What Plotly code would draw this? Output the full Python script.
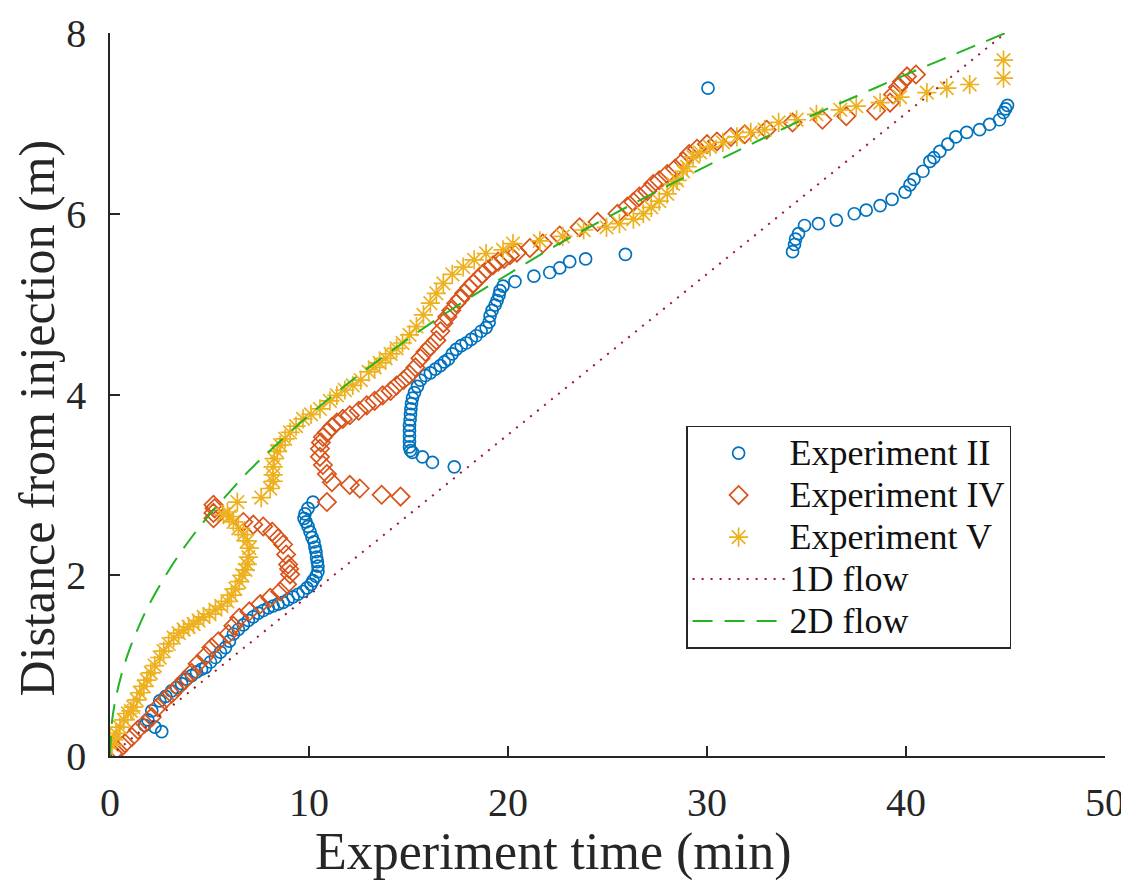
import plotly.graph_objects as go

# ---------------- data ----------------
exp2_x = [1.75, 1.9, 2.1, 2.26, 2.6, 2.5, 2.8, 3.1, 3.35, 3.6, 3.85, 4.1, 4.35, 4.6, 4.8, 5.05, 5.3, 5.55,
          5.8, 6.0, 6.2, 6.45, 6.7, 6.95, 7.2, 7.45, 7.7, 7.95, 8.2, 8.45, 8.7, 8.95, 9.2, 9.45, 9.7, 9.9,
          10.1, 10.2, 10.35, 10.45, 10.45, 10.42, 10.38, 10.35, 10.3, 10.25, 10.15, 10.05, 9.95, 9.85, 9.75,
          9.8, 9.95, 10.2,
          15.2, 15.7, 16.2, 17.3,
          15.1, 15.05, 15.05, 15.05, 15.05, 15.05, 15.08, 15.1, 15.12, 15.15, 15.2, 15.3, 15.45, 15.6, 15.85,
          16.1, 16.35, 16.6, 16.8, 17.0, 17.2, 17.4, 17.65, 17.9, 18.15, 18.4, 18.65, 18.9, 19.05, 19.1, 19.2,
          19.35, 19.45, 19.55, 19.6, 19.75, 20.35, 21.3, 22.1, 22.6, 23.1, 23.9, 25.9,
          30.05,
          34.3, 34.4, 34.45, 34.6, 34.9, 35.6, 36.5, 37.4, 38.0, 38.7, 39.3, 39.95, 40.2, 40.4, 40.85, 41.2,
          41.4, 41.7, 42.1, 42.5, 43.05, 43.7, 44.2, 44.7, 44.9, 45.0, 45.1]
exp2_y = [0.34, 0.40, 0.50, 0.32, 0.27, 0.61, 0.66, 0.72, 0.76, 0.80, 0.85, 0.89, 0.93, 0.96, 0.98, 1.04, 1.09, 1.15,
          1.20, 1.27, 1.35, 1.40, 1.45, 1.50, 1.54, 1.58, 1.61, 1.64, 1.66, 1.68, 1.70, 1.73, 1.76, 1.79, 1.82, 1.86,
          1.90, 1.94, 1.99, 2.04, 2.10, 2.15, 2.20, 2.26, 2.31, 2.37, 2.42, 2.48, 2.54, 2.59, 2.63,
          2.68, 2.74, 2.81,
          3.36, 3.31, 3.25, 3.20,
          3.38, 3.42, 3.48, 3.54, 3.60, 3.66, 3.72, 3.78, 3.84, 3.90, 3.96, 4.02, 4.09, 4.16, 4.21,
          4.24, 4.28, 4.32, 4.36, 4.39, 4.45, 4.50, 4.54, 4.57, 4.61, 4.65, 4.70, 4.74, 4.80, 4.87, 4.93,
          4.99, 5.04, 5.10, 5.15, 5.20, 5.25, 5.31, 5.35, 5.40, 5.47, 5.50, 5.55,
          7.39,
          5.58, 5.66, 5.72, 5.78, 5.87, 5.89, 5.93, 6.00, 6.04, 6.09, 6.16, 6.24, 6.32, 6.38, 6.47, 6.58,
          6.62, 6.69, 6.77, 6.85, 6.90, 6.93, 6.99, 7.04, 7.12, 7.16, 7.20]

exp4_x = [0.15, 0.4, 0.75, 1.1, 1.4, 1.75, 2.1, 2.4, 2.75, 3.1, 3.4, 3.75, 4.1, 4.4, 4.8, 5.1, 5.45, 5.95,
          6.2, 6.5, 7.0, 7.55, 8.05, 8.55, 8.9, 9.05, 9.0, 8.95, 8.85, 8.7, 8.45, 8.15, 7.7, 7.2, 6.7,
          5.2, 5.2, 5.25, 5.2,
          10.9, 11.15, 12.05, 12.55, 13.65, 14.6,
          10.9, 10.7, 10.55, 10.55, 10.6, 10.7, 10.9, 11.15, 11.4, 11.7, 12.05, 12.5, 12.9, 13.3, 13.7, 14.1,
          14.4, 14.75, 15.05, 15.35, 15.6, 15.85, 16.1, 16.4, 16.6, 16.75, 16.95, 17.15, 17.4, 17.6, 17.8, 18.05,
          18.25, 18.5, 18.7, 18.95, 19.25, 19.5, 19.8, 20.1, 20.45, 21.1, 21.75, 22.6, 23.6, 24.5, 25.5, 26.0,
          26.3, 26.6, 27.0, 27.3, 27.6, 28.0, 28.4, 28.8, 29.1, 29.5, 30.0, 30.5, 31.2, 31.9, 33.0, 34.3,
          35.8, 37.0, 38.5, 39.2, 39.35, 39.6, 39.8, 40.05, 40.5]
exp4_y = [0.03, 0.06, 0.14, 0.21, 0.29, 0.36, 0.43, 0.54, 0.62, 0.69, 0.76, 0.84, 0.92, 1.02, 1.11, 1.20, 1.27, 1.35,
          1.44, 1.53, 1.60, 1.68, 1.75, 1.82, 1.90, 2.01, 2.07, 2.12, 2.23, 2.34, 2.41, 2.48, 2.54, 2.56, 2.59,
          2.63, 2.69, 2.74, 2.78,
          2.81, 3.03, 3.00, 2.96, 2.89, 2.87,
          3.12, 3.22, 3.31, 3.40, 3.47, 3.53, 3.58, 3.64, 3.69, 3.73, 3.77, 3.82, 3.88, 3.93, 3.99, 4.04,
          4.10, 4.16, 4.22, 4.30, 4.40, 4.47, 4.53, 4.60, 4.70, 4.79, 4.86, 4.93, 5.01, 5.06, 5.12, 5.18,
          5.23, 5.28, 5.33, 5.38, 5.43, 5.47, 5.50, 5.54, 5.57, 5.62, 5.67, 5.76, 5.85, 5.91, 6.00, 6.08,
          6.13, 6.19, 6.25, 6.33, 6.37, 6.44, 6.50, 6.58, 6.66, 6.72, 6.77, 6.80, 6.85, 6.88, 6.93, 7.01,
          7.04, 7.08, 7.14, 7.23, 7.32, 7.40, 7.46, 7.52, 7.54]

exp5_x = [0.0, 0.1, 0.2, 0.3, 0.5, 0.7, 0.9, 1.05, 1.17, 1.35, 1.5, 1.7, 1.85, 2.05, 2.25, 2.5, 2.7, 2.95,
          3.2, 3.45, 3.7, 3.95, 4.2, 4.45, 4.7, 5.0, 5.3, 5.6, 5.9, 6.1, 6.3, 6.5, 6.65, 6.8, 6.9, 6.95,
          7.0, 6.9, 6.7, 6.45, 6.2, 6.0, 5.9, 5.7, 6.4, 7.6,
          8.05, 8.2, 8.2, 8.2, 8.25, 8.4, 8.55, 8.8, 9.05, 9.35, 9.7, 10.1, 10.55, 11.05, 11.4, 11.8, 12.2,
          12.6, 13.0, 13.3, 13.55, 13.85, 14.1, 14.4, 14.7, 15.05, 15.4, 15.75, 16.1, 16.4, 16.75, 17.2,
          17.75, 18.3, 18.9, 19.75, 20.25, 21.6, 22.75, 23.8, 24.95, 25.6, 26.3, 26.8, 27.2, 27.6, 28.0,
          28.3, 28.5, 28.8, 29.0, 29.3, 29.65, 30.15, 30.8, 31.5, 32.2, 32.9, 33.6, 34.5, 35.5, 36.7, 37.5,
          38.7, 39.7, 41.05, 42.05, 43.2, 44.9, 44.9]
exp5_y = [0.20, 0.12, 0.18, 0.25, 0.32, 0.40, 0.47, 0.50, 0.54, 0.62, 0.70, 0.77, 0.84, 0.92, 1.00, 1.09, 1.16, 1.24,
          1.31, 1.36, 1.40, 1.43, 1.46, 1.50, 1.54, 1.57, 1.62, 1.66, 1.71, 1.78, 1.85, 1.93, 2.00, 2.06, 2.12, 2.20,
          2.30, 2.38, 2.45, 2.52, 2.59, 2.65, 2.70, 2.67, 2.81, 2.86,
          2.96, 3.04, 3.11, 3.20, 3.29, 3.37, 3.44, 3.51, 3.58, 3.65, 3.73, 3.78, 3.84, 3.93, 3.99, 4.05, 4.10,
          4.16, 4.25, 4.30, 4.35, 4.40, 4.45, 4.51, 4.57, 4.66, 4.75, 4.88, 5.01, 5.12, 5.23, 5.33,
          5.41, 5.49, 5.56, 5.60, 5.67, 5.70, 5.75, 5.82, 5.85, 5.89, 5.94, 6.00, 6.07, 6.14, 6.22,
          6.33, 6.37, 6.47, 6.52, 6.63, 6.68, 6.74, 6.79, 6.85, 6.90, 6.93, 7.01, 7.04, 7.10, 7.15, 7.19,
          7.23, 7.29, 7.34, 7.39, 7.43, 7.50, 7.70]

flow1d_x = [0, 45]
flow1d_y = [0, 8]

flow2d_x = [0, 0.1, 0.3, 0.6, 1, 1.5, 2, 3, 4, 5, 6, 7, 8, 10, 12, 14, 16, 18, 20, 22.5, 25, 27.5,
            30, 32.5, 35, 37.5, 40, 42.5, 45]
flow2d_y = [0, 0.38, 0.65, 0.92, 1.19, 1.46, 1.69, 2.07, 2.39, 2.67, 2.92, 3.16, 3.37, 3.77, 4.13, 4.46,
            4.77, 5.06, 5.33, 5.66, 5.96, 6.25, 6.53, 6.80, 7.06, 7.30, 7.54, 7.77, 8.00]

x_ticks = [0, 10, 20, 30, 40, 50]
y_ticks = [0, 2, 4, 6, 8]

series_names = ["Experiment II", "Experiment IV", "Experiment V", "1D flow", "2D flow"]
x_title = "Experiment time (min)"
y_title = "Distance from injection (m)"

# ---------------- figure ----------------
BLUE = "#0072BD"
ORANGE = "#D95319"
YELLOW = "#EDB120"
DARKRED = "#A2142F"
GREEN = "#22B422"
AX = "#262626"
FONT = "Liberation Serif"


def lname(s):
    return '<span style="font-size:36px">' + s + '</span>'


fig = go.Figure()
fig.add_trace(go.Scatter(x=exp2_x, y=exp2_y, mode="markers", name=lname(series_names[0]),
                         marker=dict(symbol="circle-open", size=12, color=BLUE, line=dict(width=1.7, color=BLUE))))
fig.add_trace(go.Scatter(x=exp4_x, y=exp4_y, mode="markers", name=lname(series_names[1]),
                         marker=dict(symbol="diamond-open", size=14, color=ORANGE, line=dict(width=1.7, color=ORANGE))))
fig.add_trace(go.Scatter(x=exp5_x, y=exp5_y, mode="markers", name=lname(series_names[2]),
                         marker=dict(symbol="asterisk-open", size=16, color=YELLOW, line=dict(width=1.7, color=YELLOW))))
fig.add_trace(go.Scatter(x=flow1d_x, y=flow1d_y, mode="lines", name=lname(series_names[3]),
                         line=dict(color=DARKRED, width=2, dash="2px,7px")))
fig.add_trace(go.Scatter(x=flow2d_x, y=flow2d_y, mode="lines", name=lname(series_names[4]), line_shape="spline",
                         line=dict(color=GREEN, width=2, dash="20px,12px")))

axis_common = dict(showgrid=False, zeroline=False, showline=True, linecolor=AX, linewidth=1.5,
                   ticks="inside", ticklen=10, tickwidth=1.5, tickcolor=AX, ticklabeloverflow="allow",
                   automargin=False,
                   tickfont=dict(family=FONT, size=40, color=AX), mirror=False)

fig.update_layout(
    width=1121, height=878,
    margin=dict(l=102, r=24, t=25, b=130, autoexpand=False),
    paper_bgcolor="white", plot_bgcolor="white",
    font=dict(family=FONT, color=AX),
    xaxis=dict(range=[0, 50], tickvals=x_ticks, ticklabelstandoff=10, **axis_common),
    yaxis=dict(range=[0, 8], tickvals=y_ticks, ticklabelstandoff=14, **axis_common),
    legend=dict(x=0.579, y=0.457, xanchor="left", yanchor="top",
                font=dict(family=FONT, size=30, color="#111111"),
                bordercolor=AX, borderwidth=1.5, bgcolor="white",
                itemwidth=92),
    showlegend=True,
    annotations=[
        dict(text=x_title, xref="paper", yref="paper", x=0.446, y=-0.133, xanchor="center", yanchor="middle",
             showarrow=False, font=dict(family=FONT, size=52, color=AX)),
        dict(text=y_title, xref="paper", yref="paper", x=-0.0734, y=0.468, xanchor="center", yanchor="middle",
             textangle=-90, showarrow=False, font=dict(family=FONT, size=50, color=AX)),
    ],
)

fig.write_html("out.html")
